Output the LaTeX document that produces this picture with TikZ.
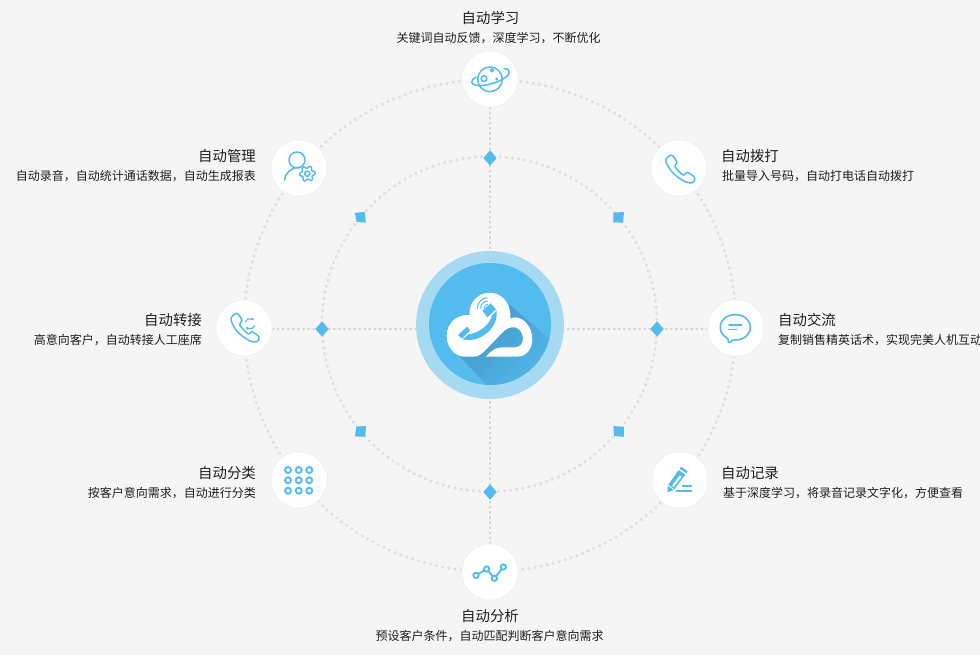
\documentclass[tikz,border=0pt]{standalone}
\usepackage{fontspec}
\setmainfont{Noto Sans CJK SC}
\usetikzlibrary{shapes.geometric,arrows.meta}
\definecolor{pagebg}{HTML}{F5F5F5}
\definecolor{sky}{HTML}{53BBEE}
\definecolor{skylight}{HTML}{A6DAF2}
\definecolor{skyshadow}{HTML}{4596C6}
\definecolor{ringdot}{HTML}{E0E0E0}
\definecolor{axisdot}{HTML}{CFCFCF}
\definecolor{inkdark}{HTML}{1E1E1E}
\definecolor{halo}{HTML}{F1F1F1}
\pgfdeclarelayer{bg}
\pgfsetlayers{bg,main}
\tikzset{
  ringline/.style={draw=ringdot,line width=3.2pt,line cap=round,dash pattern=on 0.4pt off 5.8pt},
  axisline/.style={draw=axisdot,line width=2.8pt,line cap=round,dash pattern=on 0.4pt off 4.7pt},
  iconcircle/.style={circle,fill=white,draw=halo,line width=1pt,minimum size=56.5pt,inner sep=0pt},
  gemnode/.style={diamond,fill=sky,inner sep=0pt,minimum width=13.5pt,minimum height=15.5pt},
  gemsquare/.style={fill=sky},
  ttl/.style={font=\fontsize{14.4pt}{16pt}\selectfont,text=inkdark,inner sep=0pt},
  sub/.style={font=\fontsize{12pt}{14pt}\selectfont,text=inkdark,inner sep=0pt},
  ico/.style={draw=sky,line width=1.5pt,line join=round,line cap=round},
  icothick/.style={draw=sky,line width=1.9pt,line join=round,line cap=round},
}
\begin{document}
\begin{tikzpicture}[x=1pt,y=-1pt]
\useasboundingbox (0,0) rectangle (980,655);
\begin{pgfonlayer}{bg}
\fill[pagebg] (0,0) rectangle (980,655);
\end{pgfonlayer}
% hub
\node[circle,fill=skylight,minimum size=148pt,inner sep=0pt] (hub) at (490,325) {};
\node[circle,fill=sky,minimum size=122pt,inner sep=0pt] (hubinner) at (490,324) {};
% icon nodes
\node[iconcircle] (top) at (490,79) {};
\node[iconcircle] (tr) at (679,168) {};
\node[iconcircle] (rt) at (736,328) {};
\node[iconcircle] (br) at (680,480) {};
\node[iconcircle] (bot) at (490,572) {};
\node[iconcircle] (bl) at (299,480) {};
\node[iconcircle] (lf) at (244,328) {};
\node[iconcircle] (tl) at (299,168) {};
% gems
\node[gemnode] (gt) at (490,158) {};
\node[gemnode] (gb) at (490,492) {};
\node[gemnode] (gl) at (322,329) {};
\node[gemnode] (gr) at (657,329) {};
\fill[gemsquare] (355,212.8) -- (365,212) -- (365.8,222.6) -- (356.6,222) -- cycle;
\fill[gemsquare] (613.4,212.6) -- (624,212) -- (623,222.6) -- (613.2,222.4) -- cycle;
\fill[gemsquare] (355,436.4) -- (356.2,426.6) -- (366,426) -- (365.2,436.8) -- cycle;
\fill[gemsquare] (613.4,426) -- (624,426.8) -- (623.8,436.8) -- (614,436) -- cycle;
\begin{pgfonlayer}{bg}
\draw[ringline] (490,325.5) circle (246);
\draw[ringline] (489.5,324) circle (167.5);
\draw[axisline] (top.south) -- (gt) -- (hub.north);
\draw[axisline] (bot.north) -- (gb) -- (hub.south);
\draw[axisline] (gl -| lf.east) -- (gl) -- (gl -| hub.west);
\draw[axisline] (gr -| rt.west) -- (gr) -- (gr -| hub.east);
\end{pgfonlayer}
% hub logo
\begin{scope}[shift={(400,240)},scale=1/3]
\begin{scope}
\clip (270,252) circle (183);
\shade[left color=skyshadow,right color=sky,shading angle=45]
  (330,195) -- (470,315) -- (400,470) -- (270,445) -- (175,345) -- cycle;
\end{scope}
\fill[white] (258,350) -- (350,350)
  .. controls (380,350) and (397,325) .. (397,298)
  .. controls (397,262) and (372,232) .. (345,232)
  .. controls (340,232) and (335,234) .. (331,236)
  .. controls (335,195) and (308,158) .. (270,158)
  .. controls (232,158) and (205,190) .. (209,225)
  .. controls (170,222) and (140,250) .. (140,288)
  .. controls (140,322) and (165,350) .. (195,350)
  -- (220,350)
  .. controls (235,350) and (245,342) .. (255,332)
  -- (305,280)
  .. controls (318,266) and (330,260) .. (345,262)
  .. controls (360,265) and (369,282) .. (369,296)
  .. controls (369,312) and (358,322) .. (345,322)
  -- (305,322)
  .. controls (290,322) and (275,330) .. cycle;
\fill[sky] (174,285) -- (201,260) -- (211,271) -- (186,296) -- cycle;
\fill[sky] (247,212) -- (272,190) -- (288,208) -- (262,232) -- cycle;
\fill[sky] (188,298) .. controls (235,310) and (295,270) .. (290,212)
  -- (276,226) .. controls (270,255) and (235,280) .. (205,283) -- cycle;
\draw[sky,line width=1pt,line cap=round] (252,205) arc[start angle=180,end angle=265,radius=12];
\draw[sky,line width=1pt,line cap=round] (242,205) arc[start angle=180,end angle=265,radius=22];
\draw[sky,line width=1pt,line cap=round] (232,205) arc[start angle=180,end angle=265,radius=32];
\end{scope}
% planet
\begin{scope}[shift={(440,40)},scale=1/3]
\draw[ico,fill=white] (150,118) circle (37);
\draw[ico] (132,116) circle (8.5);
\draw[ico] (156,91) circle (4.5);
\fill[sky] (170,117) circle (5);
\draw[ico] (108,111) .. controls (92,120) and (90,133) .. (108,136)
  .. controls (135,142) and (210,118) .. (208,95)
  .. controls (207,88) and (200,85) .. (192,86);
\end{scope}
% person + gear
\begin{scope}[shift={(260,130)},scale=1/3]
\draw[ico] (111,90) circle (24);
\draw[ico] (74,150) .. controls (75,128) and (95,112) .. (118,112);
\draw[ico,fill=white,smooth,samples=97,domain=0:360]
  plot ({142+(20+3.6*cos(6*\x+30))*cos(\x)},{131+(20+3.6*cos(6*\x+30))*sin(\x)}) -- cycle;
\draw[ico] (142,131) circle (8);
\end{scope}
% phone
\begin{scope}[shift={(600,130)},scale=1/3]
\draw[ico] plot[smooth cycle,tension=0.55] coordinates {(197,90) (213,75) (222,82) (231,98) (225,110) (249,135) (262,127) (284,143) (278,158) (255,155) (222,132) (205,110)};
\end{scope}
% phone + arrows
\begin{scope}[shift={(205,295)},scale=1/3]
\draw[ico] plot[smooth cycle,tension=0.55] coordinates {(78,70) (94,55) (103,62) (111,77) (104,90) (130,117) (141,110) (162,126) (156,140) (133,137) (100,113) (85,92)};
\draw[ico,line width=1.2pt,-{Latex[length=3pt,width=3pt]}] (121,80) arc[start angle=200,end angle=330,radius=14];
\draw[ico,line width=1.2pt,-{Latex[length=3pt,width=3pt]}] (149,92) arc[start angle=20,end angle=150,radius=14];
\end{scope}
% bubble
\begin{scope}[shift={(645,295)},scale=1/3]
\draw[ico,line width=1.6pt] (243,127) .. controls (225,115) and (226,100) .. (226,97)
  .. controls (226,72) and (247,59) .. (271,59)
  .. controls (297,59) and (316,75) .. (316,97)
  .. controls (316,120) and (295,135) .. (271,135)
  .. controls (265,135) and (260,135) .. (256,141) .. controls (254,143) and (250,143) .. (250,141)
  .. controls (252,135) and (248,130) .. (243,127) -- cycle;
\draw[ico,line width=1.6pt] (252,90) -- (290,90);
\draw[ico,line width=1.6pt] (252,103) -- (275,103);
\end{scope}
% grid
\foreach \gx in {288,298.7,309.3}
  \foreach \gy in {470,480.3,490.7}
    \draw[icothick] (\gx,\gy) circle (3);
% pen
\begin{scope}[shift={(600,420)},scale=1/3]
\fill[sky] (243,140) -- (263,154) -- (259,160) -- (239,146) -- cycle;
\fill[sky] (236,150) -- (256,164) -- (223,208) -- (205,194) -- cycle;
\fill[white] (240,166) -- (245,170) -- (221,201) -- (216,197) -- cycle;
\fill[sky] (203,197) -- (221,210) -- (203,217) -- cycle;
\draw[icothick,line cap=butt] (246,198) -- (275,198);
\draw[icothick,line cap=butt] (229,212) -- (275,212);
\end{scope}
% chart
\begin{scope}[shift={(440,480)},scale=1/3]
\draw[icothick] (108,286) -- (140,267) -- (163,295) -- (190,261);
\foreach \cx/\cy in {108/286,140/267,163/295,190/261}
  \draw[icothick,fill=white] (\cx,\cy) circle (8);
\end{scope}
% labels
\node[ttl] (t1) at (490.5,18) {自动学习};
\node[sub] (s1) at (498.5,38) {关键词自动反馈，深度学习，不断优化};
\node[ttl,anchor=west] (t2) at (721,156) {自动拨打};
\node[sub,anchor=west] (s2) at (722,176) {批量导入号码，自动打电话自动拨打};
\node[ttl,anchor=west] (t3) at (778,320) {自动交流};
\node[sub,anchor=west] (s3) at (778,340) {复制销售精英话术，实现完美人机互动};
\node[ttl,anchor=west] (t4) at (721,473) {自动记录};
\node[sub,anchor=west] (s4) at (723,493) {基于深度学习，将录音记录文字化，方便查看};
\node[ttl] (t5) at (490,616) {自动分析};
\node[sub] (s5) at (489.5,636) {预设客户条件，自动匹配判断客户意向需求};
\node[ttl,anchor=east] (t6) at (256,473) {自动分类};
\node[sub,anchor=east] (s6) at (256,493) {按客户意向需求，自动进行分类};
\node[ttl,anchor=east] (t7) at (202,320) {自动转接};
\node[sub,anchor=east] (s7) at (202,340) {高意向客户，自动转接人工座席};
\node[ttl,anchor=east] (t8) at (256,156) {自动管理};
\node[sub,anchor=east] (s8) at (256,176) {自动录音，自动统计通话数据，自动生成报表};
\end{tikzpicture}
\end{document}
